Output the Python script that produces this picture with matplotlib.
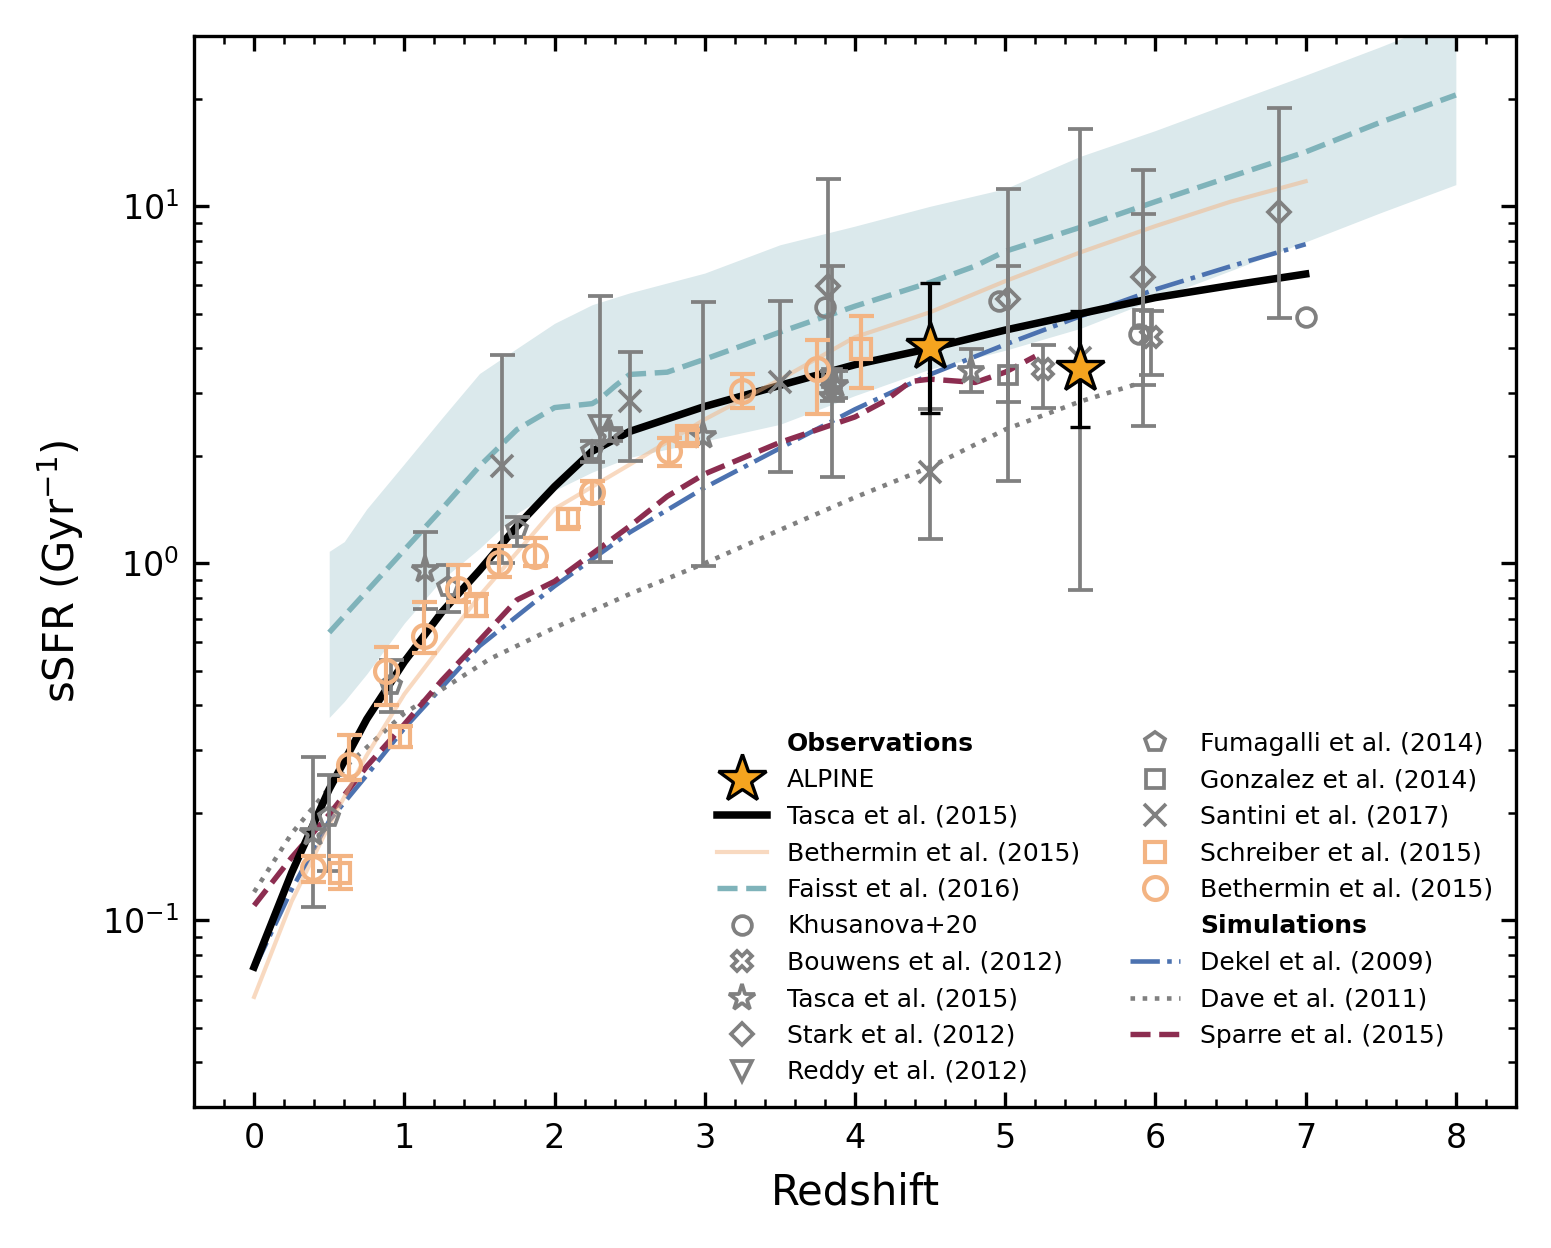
"""
plot.py
sSFR versus redshift: ALPINE points against literature data and models.
"""

import numpy as np
import matplotlib
matplotlib.use("Agg")
import matplotlib.pyplot as plt
from matplotlib.lines import Line2D
from matplotlib.ticker import MultipleLocator

# -------------------- Model curves --------------------
tasca_z = [0, 0.25, 0.5, 0.75, 1.0, 1.25, 1.5, 1.75, 2.0, 2.25, 2.5, 3.0, 3.5, 4.0,
           4.5, 5.0, 5.5, 6.0, 6.5, 7.0]
tasca_s = [0.074, 0.136, 0.233, 0.366, 0.53, 0.73, 0.955, 1.27, 1.64, 2.06, 2.34, 2.75,
           3.15, 3.6, 4.0, 4.5, 5.0, 5.55, 6.0, 6.46]

beth_z = [0, 0.25, 0.5, 0.75, 1.0, 1.25, 1.5, 2.0, 2.5, 3.0, 3.5, 4.0, 4.5, 5.0, 5.5,
          6.0, 6.5, 7.0]
beth_s = [0.061, 0.113, 0.185, 0.29, 0.43, 0.59, 0.81, 1.42, 1.89, 2.53, 3.27, 4.3, 5.05,
          6.17, 7.43, 8.8, 10.3, 11.75]

faisst_z = [0.5, 0.75, 1.0, 1.25, 1.5, 1.75, 2.0, 2.25, 2.3, 2.4, 2.5, 2.75, 3.0, 3.5,
            4.0, 4.5, 4.8, 5.0, 5.5, 6.0, 6.5, 7.0, 7.5, 8.0]
faisst_s = [0.64, 0.835, 1.09, 1.42, 1.87, 2.37, 2.73, 2.8, 2.88, 3.13, 3.38, 3.43, 3.73,
            4.44, 5.25, 6.12, 6.8, 7.48, 8.73, 10.3, 12.1, 14.2, 17.2, 20.5]

band_z = [0.5, 0.6, 0.75, 1.0, 1.25, 1.5, 1.75, 2.0, 2.25, 2.5, 3.0, 3.5, 4.0, 4.5, 5.0,
          5.5, 6.0, 6.5, 7.0, 7.5, 8.0]
band_hi = [1.08, 1.15, 1.42, 1.9, 2.55, 3.4, 4.0, 4.7, 5.3, 5.72, 6.5, 7.8, 8.8, 10.0,
           11.2, 13.8, 16.3, 19.5, 23.3, 28.0, 34.0]
band_lo = [0.37, 0.41, 0.49, 0.68, 0.9, 1.1, 1.38, 1.6, 1.8, 1.98, 2.2, 2.45, 2.95, 3.5,
           3.95, 4.55, 5.5, 6.6, 7.95, 9.6, 11.5]

dekel_z = [0, 0.25, 0.5, 0.75, 1.0, 1.5, 2.0, 2.5, 3.0, 3.5, 4.0, 4.5, 5.0, 5.5, 6.0,
           6.5, 7.0]
dekel_s = [0.073, 0.122, 0.19, 0.255, 0.345, 0.586, 0.863, 1.22, 1.63, 2.1, 2.7, 3.38,
           4.1, 4.92, 5.85, 6.79, 7.83]

dave_z = [0, 0.25, 0.5, 0.64, 1.0, 1.57, 2.0, 2.5, 3.0, 3.5, 4.0, 4.5, 5.0, 5.5, 5.9]
dave_s = [0.12, 0.175, 0.235, 0.277, 0.38, 0.54, 0.66, 0.82, 1.0, 1.24, 1.53, 1.86,
          2.37, 2.84, 3.2]

sparre_z = [0, 0.25, 0.5, 0.75, 1.0, 1.25, 1.5, 1.75, 2.0, 2.5, 2.75, 3.0, 3.5, 4.0,
            4.2, 4.37, 4.5, 4.8, 5.0, 5.2]
sparre_s = [0.11, 0.15, 0.198, 0.27, 0.354, 0.47, 0.608, 0.79, 0.89, 1.27, 1.54, 1.78,
            2.18, 2.57, 2.85, 3.23, 3.28, 3.21, 3.43, 3.8]

# -------------------- Observations (value, lower, upper) --------------------
alpine_z = [4.5, 5.5]
alpine_s = [4.03, 3.49]
alpine_lo = [2.63, 2.41]
alpine_hi = [6.08, 5.08]

khus_z = [3.8, 4.96, 5.89, 7.0]
khus_s = [5.21, 5.42, 4.38, 4.89]

bouw_z = [3.85, 5.25, 5.97]
bouw_s = [3.05, 3.49, 4.3]
bouw_lo = [2.85, 2.72, 3.36]
bouw_hi = [3.45, 4.1, 5.08]

tstar_z = [0.39, 1.14, 2.37, 2.99, 3.87, 4.77]
tstar_s = [0.176, 0.96, 2.3, 2.27, 3.15, 3.45]
tstar_lo = [0.109, 0.743, 2.2, 0.98, 2.9, 3.01]
tstar_hi = [0.286, 1.22, 2.4, 5.38, 3.45, 3.98]

stark_z = [3.82, 5.02, 5.92, 6.82]
stark_s = [5.97, 5.5, 6.32, 9.62]
stark_lo = [2.99, 2.83, 3.16, 4.85]
stark_hi = [11.9, 11.15, 12.6, 18.8]

reddy_z = [2.3]
reddy_s = [2.42]
reddy_lo = [1.01]
reddy_hi = [5.6]

fuma_z = [0.5, 0.91, 1.29, 1.75, 2.25]
fuma_s = [0.195, 0.455, 0.857, 1.245, 2.06]
fuma_lo = [0.137, 0.383, 0.73, 1.12, 1.92]
fuma_hi = [0.255, 0.535, 0.99, 1.35, 2.2]

gonz_z = [3.85, 5.02, 5.92]
gonz_s = [3.3, 3.36, 4.82]
gonz_lo = [1.74, 1.7, 2.42]
gonz_hi = [6.8, 6.8, 9.5]

sant_z = [1.65, 2.5, 3.5, 4.5, 5.5]
sant_s = [1.87, 2.84, 3.21, 1.8, 3.75]
sant_lo = [1.0, 1.93, 1.8, 1.17, 0.84]
sant_hi = [3.83, 3.9, 5.42, 2.7, 16.5]

schr_z = [0.57, 0.97, 1.48, 2.09, 2.88, 4.04]
schr_s = [0.136, 0.327, 0.76, 1.33, 2.27, 3.98]
schr_lo = [0.122, 0.306, 0.71, 1.26, 2.17, 3.09]
schr_hi = [0.151, 0.35, 0.82, 1.42, 2.37, 4.92]

bpts_z = [0.39, 0.63, 0.88, 1.13, 1.36, 1.63, 1.87, 2.25, 2.76, 3.25, 3.75]
bpts_s = [0.14, 0.273, 0.498, 0.625, 0.845, 1.0, 1.05, 1.58, 2.06, 3.03, 3.49]
bpts_lo = [0.128, 0.247, 0.4, 0.56, 0.78, 0.915, 0.98, 1.48, 1.87, 2.73, 2.62]
bpts_hi = [0.151, 0.33, 0.582, 0.78, 0.99, 1.12, 1.18, 1.7, 2.24, 3.4, 4.21]

# -------------------- Styles --------------------
GRAY = "#808080"
ORANGE = "#f3b483"
STAR_COL = "#f5a41f"
TEAL = "#7fb3ba"
BAND = "#dbe9ec"
BLUE = "#4c72b0"
MAROON = "#8c2d50"


def yerr(s, lo, hi):
    s = np.array(s)
    return [s - np.array(lo), np.array(hi) - s]


fig = plt.figure(figsize=(5.17, 4.16), dpi=300)
ax = fig.add_axes([0.1251, 0.113, 0.8523, 0.8582])

# shaded band and model lines
ax.fill_between(band_z, band_lo, band_hi, color=BAND, lw=0, zorder=0.5)
ax.plot(faisst_z, faisst_s, color=TEAL, ls="--", lw=1.3, zorder=2)
ax.plot(dekel_z, dekel_s, color=BLUE, ls="-.", lw=1.1, zorder=2)
ax.plot(dave_z, dave_s, color=GRAY, ls=":", lw=1.1, zorder=2)
ax.plot(sparre_z, sparre_s, color=MAROON, ls="--", lw=1.3, zorder=2)
ax.plot(tasca_z, tasca_s, color="black", lw=1.8, zorder=2.5)
ax.plot(beth_z, beth_s, color=ORANGE, lw=1.0, alpha=0.5, zorder=2.6)

# gray literature points
ekw = dict(ecolor=GRAY, elinewidth=0.9, capsize=3, capthick=0.9, ls="none", zorder=3)
mkw = dict(mfc="none", mec=GRAY, mew=0.9)
ax.plot(khus_z, khus_s, "o", ms=4.5, ls="none", zorder=3, **mkw)
ax.errorbar(bouw_z, bouw_s, yerr=yerr(bouw_s, bouw_lo, bouw_hi), fmt="X", ms=5, **mkw, **ekw)
ax.errorbar(tstar_z, tstar_s, yerr=yerr(tstar_s, tstar_lo, tstar_hi), fmt="*", ms=6.5, **mkw, **ekw)
ax.errorbar(stark_z, stark_s, yerr=yerr(stark_s, stark_lo, stark_hi), fmt="D", ms=3.8, **mkw, **ekw)
ax.errorbar(reddy_z, reddy_s, yerr=yerr(reddy_s, reddy_lo, reddy_hi), fmt="v", ms=5, **mkw, **ekw)
ax.errorbar(fuma_z, fuma_s, yerr=yerr(fuma_s, fuma_lo, fuma_hi), fmt="p", ms=5, **mkw, **ekw)
ax.errorbar(gonz_z, gonz_s, yerr=yerr(gonz_s, gonz_lo, gonz_hi), fmt="s", ms=4.2, **mkw, **ekw)
ax.errorbar(sant_z, sant_s, yerr=yerr(sant_s, sant_lo, sant_hi), fmt="x", ms=5.5, **mkw, **ekw)

# orange points
okw = dict(mfc="none", mec=ORANGE, mew=1.0, ecolor=ORANGE, elinewidth=1.0,
           capsize=3, capthick=1.0, ls="none", zorder=3.5)
ax.errorbar(schr_z, schr_s, yerr=yerr(schr_s, schr_lo, schr_hi), fmt="s", ms=4.8, **okw)
ax.errorbar(bpts_z, bpts_s, yerr=yerr(bpts_s, bpts_lo, bpts_hi), fmt="o", ms=5.5, **okw)

# ALPINE
ax.errorbar(alpine_z, alpine_s, yerr=yerr(alpine_s, alpine_lo, alpine_hi), fmt="*",
            ms=12, mfc=STAR_COL, mec="black", mew=0.8, ecolor="black", elinewidth=1.0,
            capsize=2.5, capthick=1.0, zorder=5)

# -------------------- Axes --------------------
ax.set_yscale("log")
ax.set_xlim(-0.4, 8.4)
ax.set_ylim(0.03, 30)
ax.xaxis.set_minor_locator(MultipleLocator(0.2))
ax.tick_params(which="both", direction="in", top=True, right=True, labelsize=8)
ax.set_xlabel("Redshift", fontsize=10)
ax.set_ylabel("sSFR (Gyr$^{-1}$)", fontsize=10)

# -------------------- Legend --------------------
blank = Line2D([], [], ls="none")
handles = [
    blank,
    Line2D([], [], marker="*", ms=12, mfc=STAR_COL, mec="black", mew=0.8, ls="none"),
    Line2D([], [], color="black", lw=1.8),
    Line2D([], [], color=ORANGE, lw=1.0, alpha=0.5),
    Line2D([], [], color=TEAL, ls="--", lw=1.3),
    Line2D([], [], marker="o", ms=4.5, ls="none", **mkw),
    Line2D([], [], marker="X", ms=5, ls="none", **mkw),
    Line2D([], [], marker="*", ms=6.5, ls="none", **mkw),
    Line2D([], [], marker="D", ms=3.8, ls="none", **mkw),
    Line2D([], [], marker="v", ms=5, ls="none", **mkw),
    Line2D([], [], marker="p", ms=5, ls="none", **mkw),
    Line2D([], [], marker="s", ms=4.2, ls="none", **mkw),
    Line2D([], [], marker="x", ms=5.5, ls="none", **mkw),
    Line2D([], [], marker="s", ms=4.8, mfc="none", mec=ORANGE, mew=1.0, ls="none"),
    Line2D([], [], marker="o", ms=5.5, mfc="none", mec=ORANGE, mew=1.0, ls="none"),
    blank,
    Line2D([], [], color=BLUE, ls="-.", lw=1.1),
    Line2D([], [], color=GRAY, ls=":", lw=1.1),
    Line2D([], [], color=MAROON, ls="--", lw=1.3),
]
labels = [
    "Observations", "ALPINE", "Tasca et al. (2015)", "Bethermin et al. (2015)",
    "Faisst et al. (2016)", "Khusanova+20", "Bouwens et al. (2012)",
    "Tasca et al. (2015)", "Stark et al. (2012)", "Reddy et al. (2012)",
    "Fumagalli et al. (2014)", "Gonzalez et al. (2014)", "Santini et al. (2017)",
    "Schreiber et al. (2015)", "Bethermin et al. (2015)", "Simulations",
    "Dekel et al. (2009)", "Dave et al. (2011)", "Sparre et al. (2015)",
]
leg = ax.legend(handles, labels, ncol=2, loc="lower right", fontsize=6,
                frameon=False, labelspacing=0.5)
leg.get_texts()[0].set_fontweight("bold")
leg.get_texts()[15].set_fontweight("bold")

fig.savefig("out.png", dpi=300)
